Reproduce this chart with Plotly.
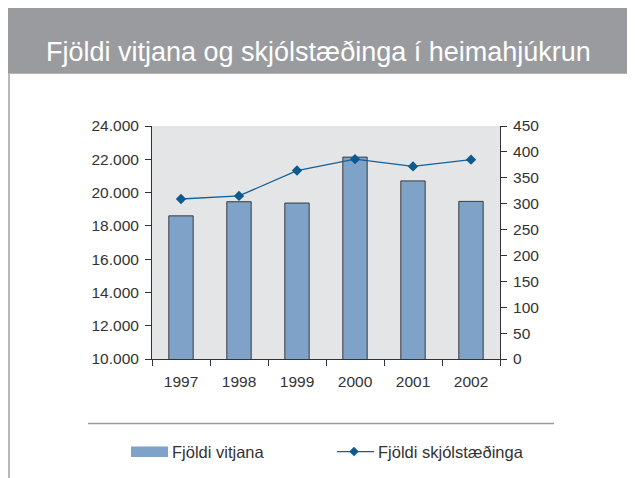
import plotly.graph_objects as go

years = ["1997", "1998", "1999", "2000", "2001", "2002"]
vitjanir = [18600, 19450, 19370, 22130, 20700, 19470]
skjolstaedingar = [309, 315, 364, 386, 372, 385]

left_ticks = [10000, 12000, 14000, 16000, 18000, 20000, 22000, 24000]
left_ticktext = ["10.000", "12.000", "14.000", "16.000", "18.000", "20.000", "22.000", "24.000"]
right_ticks = [0, 50, 100, 150, 200, 250, 300, 350, 400, 450]

# page body has an 8px margin, so figure is laid out in window coords minus 8
OFF = 8
W, H = 635 - OFF, 478 - OFF
L, R, T, B = 152 - OFF, 500 - OFF, 125.5 - OFF, 359.5 - OFF

def px(x):
    return (x - OFF - L) / (R - L)

def py(y):
    return (B - (y - OFF)) / (B - T)

bar_color = "#7fa2c8"
line_color = "#13609a"
marker_color = "#0d5a8e"
font_family = "Liberation Sans, Arial, sans-serif"
title_font = "Liberation Sans Narrow, Liberation Sans, Arial, sans-serif"
tick_size = 15.5
legend_size = 16.5

fig = go.Figure()
fig.add_trace(go.Bar(
    x=years, y=vitjanir, name="Fjöldi vitjana",
    marker=dict(color=bar_color, line=dict(color="#3a3a3a", width=1)),
    width=0.42, yaxis="y",
))
fig.add_trace(go.Scatter(
    x=years, y=skjolstaedingar, name="Fjöldi skjólstæðinga",
    mode="lines+markers", yaxis="y2",
    line=dict(color=line_color, width=1.3),
    marker=dict(symbol="diamond", size=8, color=marker_color),
))

# legend diamond path (paper coordinates)
cx, cy, d = 354, 452.5, 4.5
diamond = "M {} {} L {} {} L {} {} L {} {} Z".format(
    px(cx), py(cy - d), px(cx + d), py(cy), px(cx), py(cy + d), px(cx - d), py(cy))

shapes = [
    # title bar
    dict(type="rect", xref="paper", yref="paper", x0=px(8), x1=px(650), y0=py(73), y1=py(5),
         fillcolor="#9a9b9e", line=dict(width=0), layer="below"),
    # left vertical rule
    dict(type="line", xref="paper", yref="paper", x0=px(9), x1=px(9), y0=py(73), y1=py(490),
         line=dict(color="#a0a0a0", width=1.5)),
    # separator above legend
    dict(type="line", xref="paper", yref="paper", x0=px(88), x1=px(554), y0=py(424.3), y1=py(424.3),
         line=dict(color="#9a9a9a", width=1.5)),
    # legend: bar swatch
    dict(type="rect", xref="paper", yref="paper", x0=px(131), x1=px(168), y0=py(458), y1=py(447.5),
         fillcolor=bar_color, line=dict(width=0)),
    # legend: line swatch
    dict(type="line", xref="paper", yref="paper", x0=px(337), x1=px(374), y0=py(452.5), y1=py(452.5),
         line=dict(color=line_color, width=1.3)),
    # legend: diamond marker
    dict(type="path", xref="paper", yref="paper", path=diamond,
         fillcolor=marker_color, line=dict(color=marker_color, width=0.5)),
]

annotations = [
    dict(text="Fjöldi vitjana og skjólstæðinga í heimahjúkrun", xref="paper", yref="paper",
         x=px(318), y=py(51), xanchor="center", yanchor="middle", showarrow=False,
         font=dict(family=title_font, size=27, color="white")),
    dict(text="Fjöldi vitjana", xref="paper", yref="paper", x=px(170), y=py(452.5),
         xanchor="left", yanchor="middle", showarrow=False,
         font=dict(family=font_family, size=legend_size, color="#333333")),
    dict(text="Fjöldi skjólstæðinga", xref="paper", yref="paper", x=px(376), y=py(452.5),
         xanchor="left", yanchor="middle", showarrow=False,
         font=dict(family=font_family, size=legend_size, color="#333333")),
]

fig.update_layout(
    width=W, height=H, autosize=False,
    margin=dict(l=L, r=W - R, t=T, b=H - B, pad=0),
    paper_bgcolor="white", plot_bgcolor="#e4e5e7",
    showlegend=False,
    font=dict(family=font_family, size=tick_size, color="#333333"),
    xaxis=dict(
        type="category", showline=True, linecolor="#333333", linewidth=1,
        ticks="outside", ticklen=6, tickcolor="#333333", tickson="boundaries",
        showgrid=False, zeroline=False, tickfont=dict(size=tick_size, color="#333333"),
        ticklabelstandoff=8, fixedrange=True,
    ),
    yaxis=dict(
        range=[10000, 24000], tickvals=left_ticks, ticktext=left_ticktext,
        showline=True, linecolor="#333333", linewidth=1,
        ticks="outside", ticklen=6, tickcolor="#333333",
        showgrid=False, zeroline=False, tickfont=dict(size=tick_size, color="#333333"),
        ticklabelstandoff=3,
    ),
    yaxis2=dict(
        range=[0, 450], tickvals=right_ticks, overlaying="y", side="right",
        showline=True, linecolor="#333333", linewidth=1,
        ticks="outside", ticklen=6, tickcolor="#333333",
        showgrid=False, zeroline=False, tickfont=dict(size=tick_size, color="#333333"),
        ticklabelstandoff=3,
    ),
    shapes=shapes,
    annotations=annotations,
)

fig.write_html("out.html")
